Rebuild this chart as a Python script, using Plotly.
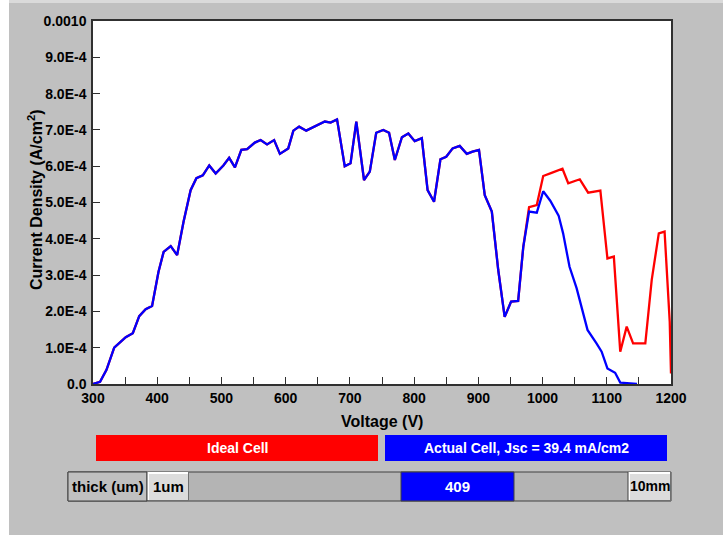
import plotly.graph_objects as go

# ---- data -------------------------------------------------------------
# Actual cell spectral current density (units of 1e-4 A/cm^2)
actual_voltage = [300, 311, 321, 333, 351, 362, 372, 382, 392, 402,
                  410, 421, 431, 441, 452, 461, 471, 481, 491, 503,
                  512, 521, 531, 540, 552, 561, 571, 582, 591, 604,
                  612, 621, 632, 642, 652, 661, 670, 680, 692, 701,
                  710, 722, 731, 741, 752, 761, 770, 781, 791, 801,
                  812, 821, 831, 841, 850, 860, 871, 882, 891, 901,
                  910, 921, 931, 941, 951, 962, 970, 979, 991, 1001,
                  1012, 1025, 1032, 1042, 1053, 1070, 1084, 1092, 1101, 1113,
                  1121, 1147]
actual_current = [0.00, 0.06, 0.39, 1.00, 1.29, 1.40, 1.87, 2.06, 2.15, 3.09,
                  3.64, 3.80, 3.55, 4.47, 5.34, 5.67, 5.75, 6.02, 5.80, 6.02,
                  6.23, 5.97, 6.45, 6.47, 6.65, 6.72, 6.60, 6.72, 6.34, 6.49,
                  6.98, 7.09, 6.98, 7.06, 7.16, 7.23, 7.20, 7.29, 6.00, 6.08,
                  7.23, 5.62, 5.85, 6.92, 7.00, 6.92, 6.17, 6.80, 6.90, 6.69,
                  6.77, 5.34, 5.02, 6.19, 6.26, 6.49, 6.56, 6.34, 6.40, 6.45,
                  5.20, 4.75, 3.14, 1.85, 2.27, 2.29, 3.78, 4.75, 4.72, 5.31,
                  5.05, 4.64, 4.15, 3.23, 2.64, 1.49, 1.12, 0.89, 0.43, 0.31,
                  0.04, 0.00]

# Ideal cell coincides with the actual cell up to 970 V, then continues
ideal_tail_voltage = [979, 991, 1001, 1013, 1031, 1040, 1058, 1071, 1090, 1101,
                      1111, 1121, 1131, 1141, 1160, 1170, 1181, 1190, 1198, 1200]
ideal_tail_current = [4.87, 4.93, 5.73, 5.81, 5.93, 5.53, 5.64, 5.27, 5.33, 3.46,
                      3.51, 0.89, 1.58, 1.12, 1.12, 2.87, 4.15, 4.20, 1.72, 0.29]

shared = actual_voltage.index(970) + 1
ideal_voltage = actual_voltage[:shared] + ideal_tail_voltage
ideal_current = actual_current[:shared] + ideal_tail_current

x_tick_values = [300, 400, 500, 600, 700, 800, 900, 1000, 1100, 1200]
x_tick_labels = ["300", "400", "500", "600", "700", "800", "900",
                 "1000", "1100", "1200"]
y_tick_values = [0.0, 0.0001, 0.0002, 0.0003, 0.0004, 0.0005,
                 0.0006, 0.0007, 0.0008, 0.0009, 0.0010]
y_tick_labels = ["0.0", "1.0E-4", "2.0E-4", "3.0E-4", "4.0E-4", "5.0E-4",
                 "6.0E-4", "7.0E-4", "8.0E-4", "9.0E-4", "0.0010"]

ideal_label = "Ideal Cell"
actual_label = "Actual Cell, Jsc = 39.4 mA/cm2"
thickness_value = "409"

# ---- layout geometry (pixels) -----------------------------------------
W, H = 723, 539
L, R, T, B = 93, 671, 21, 384
FONT = "Liberation Sans, Arial, sans-serif"
PANEL = "#c0c0c0"


def fx(x):
    return (x - L) / (R - L)


def fy(y):
    return (B - y) / (B - T)


shapes = []


def rect(x0, y0, x1, y1, fill, line_color=None, line_width=0):
    shapes.append(dict(type="rect", xref="paper", yref="paper",
                       x0=fx(x0), x1=fx(x1), y0=fy(y1), y1=fy(y0),
                       fillcolor=fill, layer="above",
                       line=dict(color=line_color or fill, width=line_width)))


def seg(x0, y0, x1, y1, color, width=1):
    shapes.append(dict(type="line", xref="paper", yref="paper",
                       x0=fx(x0), x1=fx(x1), y0=fy(y0), y1=fy(y1),
                       layer="above", line=dict(color=color, width=width)))


def button(x0, y0, x1, y1):
    rect(x0, y0, x1, y1, "#dcdcdc")
    seg(x0 + 0.5, y0 + 1, x1 - 1, y0 + 1, "#ffffff", 2)
    seg(x0 + 1, y0 + 0.5, x0 + 1, y1 - 1, "#ffffff", 2)
    seg(x0, y1 - 0.5, x1, y1 - 0.5, "#707070", 1)
    seg(x1 - 0.5, y0, x1 - 0.5, y1, "#707070", 1)
    seg(x0, y0, x0, y1, "#404040", 1)


# page edges outside the grey panel
rect(0, 0, 9, H, "#ffffff")
rect(9, 0, W, 3, "#dadada")
rect(0, 535, W, H, "#ffffff")

# legend bars
rect(96, 435, 378, 461, "#ff0000")
rect(385, 435, 667, 461, "#0000ff")

# thickness slider
rect(68, 472, 671, 501, "#b4b4b4", "#404040", 1)
rect(68, 472, 147, 501, PANEL, "#404040", 1)
button(147, 472, 189, 501)
rect(401, 472, 514, 501, "#0000ff", "#404040", 1)
button(628, 472, 671, 501)


def label(text, x, y, size, color="#000000", angle=0):
    return dict(text=text, x=fx(x), y=fy(y), textangle=angle, showarrow=False,
                xref="paper", yref="paper", xanchor="center", yanchor="middle",
                font=dict(family=FONT, size=size, color=color, weight="bold"))


annotations = [
    label("Voltage (V)", 382, 421, 16),
    label("Current Density (A/cm<sup>2</sup>)", 35, 200, 16, angle=-90),
    label(ideal_label, 237, 448, 14, "#ffffff"),
    label(actual_label, 526, 448, 14, "#ffffff"),
    label("thick (um)", 107.5, 486.5, 15),
    label("1um", 168, 486.5, 15),
    label(thickness_value, 457.5, 487, 15, "#ffffff"),
    label("10mm", 650, 486.5, 14),
]

fig = go.Figure()
fig.add_trace(go.Scatter(x=ideal_voltage, y=[v * 1e-4 for v in ideal_current],
                         mode="lines", line=dict(color="#ff0000", width=2.3),
                         name=ideal_label, showlegend=False))
fig.add_trace(go.Scatter(x=actual_voltage, y=[v * 1e-4 for v in actual_current],
                         mode="lines", line=dict(color="#0000ff", width=2.3),
                         name=actual_label, showlegend=False))

tickfont = dict(family=FONT, size=14, color="#000000", weight="bold")
fig.update_layout(
    width=W, height=H, autosize=False,
    margin=dict(l=L, r=W - R, t=T, b=H - B, pad=0),
    paper_bgcolor=PANEL, plot_bgcolor="#ffffff",
    shapes=shapes, annotations=annotations,
    xaxis=dict(range=[300, 1200], tickvals=x_tick_values, ticktext=x_tick_labels,
               ticks="inside", ticklen=7, tickcolor="#303030", tickwidth=1,
               minor=dict(ticks="inside", dtick=50, tick0=300, ticklen=7,
                          tickcolor="#303030", tickwidth=1, showgrid=False),
               showline=True, linecolor="#303030", linewidth=1.5, mirror=True,
               showgrid=False, zeroline=False, tickfont=tickfont,
               ticklabelstandoff=0, fixedrange=True),
    yaxis=dict(range=[0, 0.001], tickvals=y_tick_values, ticktext=y_tick_labels,
               ticks="inside", ticklen=7, tickcolor="#303030", tickwidth=1,
               showline=True, linecolor="#303030", linewidth=1.5, mirror=True,
               showgrid=False, zeroline=False, tickfont=tickfont,
               ticklabelstandoff=2, fixedrange=True),
)

fig.write_html("out.html")
